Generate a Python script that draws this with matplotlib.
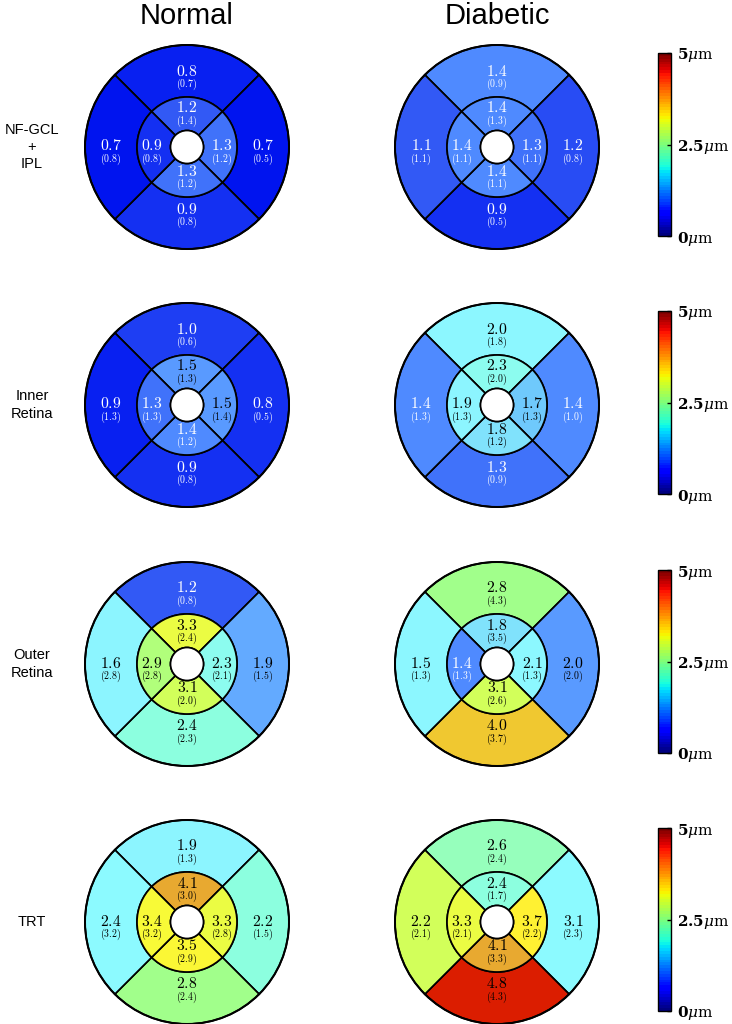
import numpy as np
import matplotlib
matplotlib.use("Agg")
import matplotlib.pyplot as plt
from matplotlib.patches import Wedge, Circle
from matplotlib.colors import LinearSegmentedColormap, Normalize
from matplotlib.cm import ScalarMappable

plt.rcParams['mathtext.fontset'] = 'cm'

# ---------------- data ----------------
groups = ["Normal", "Diabetic"]
layers = ["NF-GCL\n+\nIPL", "Inner\nRetina", "Outer\nRetina", "TRT"]
# sector order: outer top, outer right, outer bottom, outer left,
#               inner top, inner right, inner bottom, inner left
normal_mean = [
    [0.8, 0.7, 0.9, 0.7, 1.2, 1.3, 1.3, 0.9],
    [1.0, 0.8, 0.9, 0.9, 1.5, 1.5, 1.4, 1.3],
    [1.2, 1.9, 2.4, 1.6, 3.3, 2.3, 3.1, 2.9],
    [1.9, 2.2, 2.8, 2.4, 4.1, 3.3, 3.5, 3.4],
]
normal_sd = [
    [0.7, 0.5, 0.8, 0.8, 1.4, 1.2, 1.2, 0.8],
    [0.6, 0.5, 0.8, 1.3, 1.3, 1.4, 1.2, 1.3],
    [0.8, 1.5, 2.3, 2.8, 2.4, 2.1, 2.0, 2.8],
    [1.3, 1.5, 2.4, 3.2, 3.0, 2.8, 2.9, 3.2],
]
diabetic_mean = [
    [1.4, 1.2, 0.9, 1.1, 1.4, 1.3, 1.4, 1.4],
    [2.0, 1.4, 1.3, 1.4, 2.3, 1.7, 1.8, 1.9],
    [2.8, 2.0, 4.0, 1.5, 1.8, 2.1, 3.1, 1.4],
    [2.6, 3.1, 4.8, 2.2, 2.4, 3.7, 4.1, 3.3],
]
diabetic_sd = [
    [0.9, 0.8, 0.5, 1.1, 1.3, 1.1, 1.1, 1.1],
    [1.8, 1.0, 0.9, 1.3, 2.0, 1.3, 1.2, 1.3],
    [4.3, 2.0, 3.7, 1.3, 3.5, 1.3, 2.6, 1.3],
    [2.4, 2.3, 4.3, 2.1, 1.7, 2.2, 3.3, 2.1],
]
cbar_ticks = [0, 2.5, 5]
cbar_labels = [r'$\mathbf{0}\mu\mathrm{m}$', r'$\mathbf{2.5}\mu\mathrm{m}$', r'$\mathbf{5}\mu\mathrm{m}$']
vmin, vmax = 0.0, 5.0

# the fill colour of the outer left/right sectors is taken from the opposite side
color_source = [0, 3, 2, 1, 4, 5, 6, 7]

# ---------------- style ----------------
anchor_vals = [0.0, 0.7, 1.2, 1.4, 1.6, 1.7, 1.8, 1.9, 2.2, 2.4, 2.6, 2.8, 3.1, 3.4, 3.7,
               4.0, 4.1, 4.8, 5.0]
anchor_cols = [(0, 0, 190), (0, 20, 240), (50, 90, 245), (80, 140, 255), (100, 172, 255),
               (110, 200, 252), (128, 225, 252), (140, 245, 255), (140, 250, 255),
               (140, 255, 222), (150, 255, 190), (160, 255, 140),
               (210, 255, 90), (248, 250, 55), (255, 242, 50), (240, 200, 48),
               (232, 168, 48), (220, 30, 0), (170, 0, 0)]
cell_cmap = LinearSegmentedColormap.from_list(
    "cells", [((v - vmin) / (vmax - vmin), tuple(c / 255 for c in col))
              for v, col in zip(anchor_vals, anchor_cols)])
bar_cmap = plt.get_cmap('jet', 64)
norm = Normalize(vmin, vmax)

W, H = 732, 1024
fig = plt.figure(figsize=(W / 100, H / 100), dpi=100)

col_x = [187, 497]
row_y = [147, 405, 664, 922]
R_hole, R_mid, R_out = 16.5, 50, 102
half = 112
LW = 1.25

# sector angle ranges
sect_angles = [(45, 135), (-45, 45), (225, 315), (135, 225)]
# text positions (x, y_value, y_sd) in px relative to center
outer_pos = [(0, 76, 63), (76, 1, -12), (0, -62, -75), (-76, 1, -12)]
inner_pos = [(0, 39, 26), (35, 1, -12), (0, -24, -37), (-35, 1, -12)]


def draw_panel(cx, cy, means, sds):
    ax = fig.add_axes([(cx - half) / W, 1 - (cy + half) / H, 2 * half / W, 2 * half / H])
    ax.set_xlim(-half, half)
    ax.set_ylim(-half, half)
    ax.set_aspect('equal')
    ax.axis('off')
    for k in range(8):
        t1, t2 = sect_angles[k % 4]
        if k < 4:
            r, w = R_out, R_out - R_mid
        else:
            r, w = R_mid, R_mid - R_hole
        col = cell_cmap(norm(means[color_source[k]]))
        ax.add_patch(Wedge((0, 0), r, t1, t2, width=w, facecolor=col,
                           edgecolor='black', linewidth=LW))
        px, py_v, py_s = (outer_pos if k < 4 else inner_pos)[k % 4]
        tc = 'white' if means[k] < 1.45 else 'black'
        ax.text(px, py_v, r'$%.1f$' % means[k], ha='center', va='center',
                fontsize=11.3, color=tc)
        ax.text(px, py_s, r'$(%.1f)$' % sds[k], ha='center', va='center',
                fontsize=7.1, color=tc)
    ax.add_patch(Circle((0, 0), R_out, fill=False, edgecolor='black', linewidth=LW + 0.2))
    ax.add_patch(Circle((0, 0), R_hole, facecolor='white', edgecolor='black', linewidth=LW))


for i, lab in enumerate(layers):
    draw_panel(col_x[0], row_y[i], normal_mean[i], normal_sd[i])
    draw_panel(col_x[1], row_y[i], diabetic_mean[i], diabetic_sd[i])
    fig.text(32 / W, 1 - row_y[i] / H, lab, ha='center', va='center',
             fontsize=10.5, family='Liberation Sans', linespacing=1.3)
    # colorbar
    top = row_y[i] - 94
    cax = fig.add_axes([658 / W, 1 - (top + 183) / H, 13 / W, 183 / H])
    cb = fig.colorbar(ScalarMappable(norm=norm, cmap=bar_cmap), cax=cax)
    cb.set_ticks(cbar_ticks)
    cb.set_ticklabels(cbar_labels)
    cb.outline.set_linewidth(1.0)
    cax.tick_params(direction='in', length=3, width=1, labelsize=11, pad=4)
    for tl in cax.get_yticklabels():
        tl.set_math_fontfamily('dejavuserif')

for j, g in enumerate(groups):
    fig.text(col_x[j] / W, 1 - 16 / H, g, ha='center', va='center',
             fontsize=21, family='Liberation Sans')

fig.savefig("out.png", dpi=100)
